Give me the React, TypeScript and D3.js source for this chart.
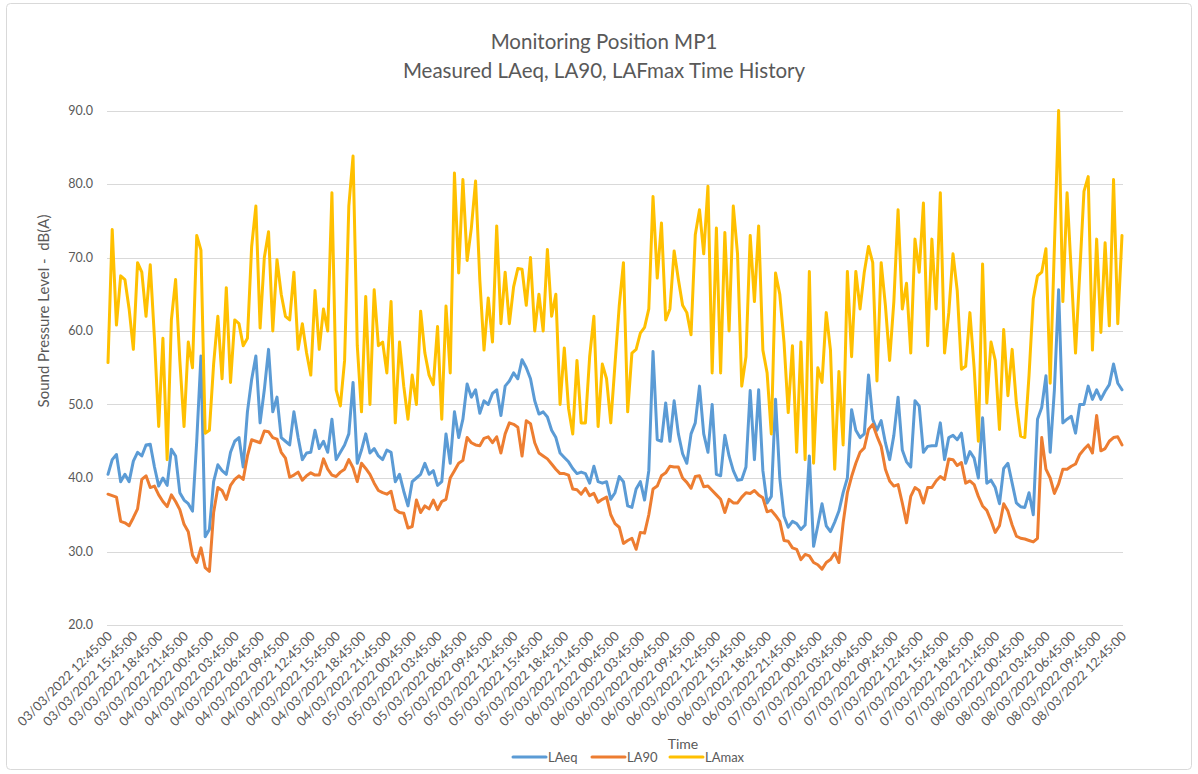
import { useEffect, useRef } from "react";
import * as d3 from "d3";

const width = 1198;
const height = 774;

// 30 minute samples from 03/03/2022 12:45 to 08/03/2022 12:45
const startTime = new Date(2022, 2, 3, 12, 45);
const stepMinutes = 30;

const laeq = [
  40.5, 42.5, 43.2, 39.5, 40.5, 39.5, 42.3, 43.5, 43, 44.5, 44.6, 41.5, 38.9, 40, 39, 43.9, 43, 38, 37, 36.5,
  35.5, 45, 56.6, 32, 33, 39.5, 41.8, 41, 40.5, 43.5, 45, 45.5, 41.5, 49, 53.4, 56.6, 47.5, 52, 57.5, 49,
  51, 45.5, 45, 44.5, 49, 45.5, 42.5, 43.4, 43.5, 46.5, 44, 45, 43.5, 48, 42.5, 43.5, 44.5, 46, 53, 42,
  43.8, 46, 43.4, 44, 43, 42.5, 43.8, 43.5, 39.5, 40.5, 38.2, 36.2, 39.5, 40, 40.5, 42, 40.5, 41, 39, 39.5,
  46, 42, 49, 45.5, 48, 52.8, 51, 52, 48.8, 50.5, 50, 51.5, 52, 48.5, 52.5, 53.2, 54.3, 53.5, 56.1, 55,
  53.5, 50.5, 48.7, 49, 48.3, 46.5, 45.5, 43.4, 42.8, 42.2, 41.3, 40.6, 40.8, 40.6, 39.3, 41.6, 39.5, 39.3, 39.5, 37.1,
  38, 40.2, 39.5, 36.2, 36, 38.5, 39.5, 37, 41, 57.2, 45.2, 45, 50.2, 45, 50.5, 46, 43.3, 42, 46, 47.5,
  52.5, 46, 43.5, 50, 40.5, 40.3, 45.8, 43, 41, 39.7, 39.8, 41.5, 51.9, 42.5, 52, 41, 36.6, 37.5, 50.7, 40,
  34.8, 33.3, 34.1, 33.8, 33, 33.6, 43, 30.7, 33.5, 36.5, 33.5, 32.7, 34, 35.5, 38, 40, 49.3, 46.5, 45.5, 46,
  54, 48, 46.5, 47.8, 44.8, 42.5, 45.8, 51, 43.8, 42.2, 41.5, 50.5, 49.8, 43.5, 44.3, 44.4, 44.4, 47.5, 42.5, 45.5,
  45.8, 45.2, 46.1, 42, 43.6, 42.7, 40, 48.2, 39.3, 39.7, 38.7, 36.5, 41.3, 42, 39.3, 36.6, 36.1, 36, 38, 35,
  48, 49.6, 53.9, 43.5, 52, 65.6, 47.5, 48, 48.4, 46.1, 50, 50, 52.5, 50.7, 52, 50.7, 51.8, 52.7, 55.5, 52.9,
  52,
];

const la90 = [
  37.8, 37.6, 37.4, 34.1, 33.9, 33.5, 34.6, 35.8, 39.8, 40.3, 38.7, 38.9, 37.7, 36.8, 36.1, 37.7, 36.8, 35.7, 33.7, 32.7,
  29.5, 28.5, 30.5, 27.8, 27.3, 35.3, 38.7, 38.3, 37.1, 39, 39.8, 40.3, 39.8, 43, 45.2, 45, 44.8, 46.4, 46.3, 45.5,
  45.3, 43.5, 42.7, 40.1, 40.4, 40.8, 39.7, 40.3, 40.7, 40.4, 40.4, 42.6, 41.2, 40.4, 40.2, 40.8, 41.2, 42.5, 41.4, 39.5,
  42, 41.3, 40.5, 39.3, 38.3, 38, 37.8, 38.2, 35.7, 35.3, 35.2, 33.2, 33.4, 37, 35.3, 36.2, 35.8, 37, 35.7, 36.8,
  37.1, 40, 41, 42, 42.4, 45.5, 44.8, 44.5, 44.4, 45.4, 45.6, 44.8, 45.6, 43.4, 46, 47.5, 47.3, 46.9, 43, 47.8,
  47.4, 44.8, 43.4, 43, 42.6, 41.9, 41.2, 40.6, 40.6, 40.4, 38.5, 38.4, 37.8, 38.6, 37.6, 37.9, 36.7, 37.1, 37.4, 35,
  33.8, 33.3, 31.1, 31.5, 31.8, 30.3, 32.6, 32.5, 35, 38.5, 38.9, 40.3, 40.7, 41.6, 41.5, 41.5, 40, 39.4, 38.6, 40.2,
  40.3, 38.8, 38.9, 38.3, 37.7, 37.1, 35.3, 37.1, 36.6, 36.6, 37.4, 38, 37.9, 38.3, 37.7, 37.3, 35.4, 35.6, 34.9, 34.1,
  31.5, 31.4, 30.5, 30.3, 28.9, 29.6, 29.4, 28.5, 28.2, 27.6, 28.5, 28.9, 29.8, 28.5, 33.9, 38, 40.2, 42, 43.5, 44.1,
  46.6, 47.3, 45.7, 44.3, 41.2, 39.6, 38.9, 39.1, 36.6, 33.9, 37.5, 38.7, 38.3, 36.6, 38.7, 38.7, 39.6, 40.2, 39.8, 42.6,
  42.5, 41.7, 42.1, 39.3, 39.6, 39.1, 37.5, 36.2, 35.6, 34.2, 32.6, 33.5, 36.5, 35.5, 33.6, 32.1, 31.8, 31.7, 31.5, 31.3,
  31.8, 45.5, 41.2, 40, 37.9, 39.2, 41.2, 41.2, 41.6, 41.9, 43.2, 43.9, 44.5, 43.4, 48.5, 43.7, 44, 45, 45.5, 45.6,
  44.5,
];

const lamax = [
  55.7, 73.8, 60.8, 67.5, 67, 63, 57.5, 69.3, 68, 62, 69, 59, 47, 59, 42.5, 61.5, 67, 56, 47, 58.5,
  55, 73, 71, 46.1, 46.5, 55.5, 62, 53.5, 65.9, 53, 61.5, 61, 58, 59, 71.5, 77, 60.4, 70, 73.5, 60,
  69.7, 65, 62, 61.5, 68, 57.5, 61, 57, 54, 65.5, 57.5, 63, 60, 78.8, 52, 49.8, 56, 77, 83.8, 58,
  49, 64.7, 50, 65.6, 58, 58.5, 54.3, 64, 47.5, 58.5, 52.5, 48, 54, 50, 62.7, 57, 54, 52.7, 60.6, 48,
  63.4, 54.3, 81.5, 67.9, 80.6, 69.6, 74, 80.4, 67, 57.4, 64.5, 58.5, 74.3, 61, 68, 61, 66, 68.5, 68.4, 63.5,
  70, 60, 65, 60, 71.1, 62, 65, 50, 57.7, 49.5, 46, 56, 47.5, 47.5, 56.5, 62, 47, 55.5, 53.5, 47.5,
  55.5, 63.4, 69.3, 49, 57, 57.5, 59.7, 60.5, 63, 78.3, 67.2, 74.7, 61.5, 63, 70.9, 67, 63.5, 62.5, 59.5, 73.1,
  76.5, 70.5, 79.7, 54.3, 74, 54.3, 73.4, 60, 77, 70.5, 52.5, 56.5, 73, 64, 74.3, 57.4, 54.3, 46, 67.9, 65,
  58.5, 48.9, 58, 43.5, 58.5, 42.5, 68.1, 42, 55, 53, 62.5, 57.4, 41.2, 54.5, 44.5, 68.1, 56.5, 68.1, 63, 68,
  71.5, 69.3, 53.2, 69.3, 63.5, 56, 64, 76.5, 63, 66.5, 57, 72.5, 68, 77.4, 58, 72.5, 63, 78.8, 57, 62.5,
  70.5, 65.5, 54.8, 55.2, 62.5, 55, 45, 69.1, 50.2, 58.5, 56, 46.6, 60.2, 51.2, 57.5, 50.2, 45.7, 45.5, 54, 64.4,
  67.5, 68, 71.2, 52.9, 71.5, 90, 64, 78.8, 67.9, 57, 67.9, 79, 81, 57.4, 72.5, 59.8, 72, 60.7, 80.6, 61,
  73,
];

const seriesNames = ["LAeq", "LA90", "LAmax"];
const seriesColors = ["#5B9BD5", "#ED7D31", "#FFC000"];
const yTicks = [20, 30, 40, 50, 60, 70, 80, 90];
const titleLines = ["Monitoring Position MP1", "Measured LAeq, LA90, LAFmax Time History"];

const font = "Lato, 'Open Sans', sans-serif";
const textColor = "#595959";

const App = () => {
  const ref = useRef<SVGSVGElement>(null);

  useEffect(() => {
    const svg = d3.select(ref.current);
    svg.selectAll("*").remove();

    const times = laeq.map((_, i) => new Date(startTime.getTime() + i * stepMinutes * 60000));
    const x = d3.scaleTime().domain([times[0], times[times.length - 1]]).range([108, 1122]);
    const y = d3.scaleLinear().domain([20, 90]).range([625, 110.5]);

    // chart area border
    svg.append("rect")
      .attr("x", 6.5).attr("y", 3.5)
      .attr("width", 1185).attr("height", 766)
      .attr("rx", 4)
      .attr("fill", "#fff")
      .attr("stroke", "#d9d9d9");

    // title
    svg.append("g")
      .selectAll("text")
      .data(titleLines)
      .enter().append("text")
      .attr("x", 604)
      .attr("y", (d, i) => 49 + i * 29)
      .attr("text-anchor", "middle")
      .attr("font-family", font)
      .attr("font-size", 20.5)
      .attr("fill", textColor)
      .text(d => d);

    // gridlines + y labels
    const grid = svg.append("g");
    grid.selectAll("line")
      .data(yTicks)
      .enter().append("line")
      .attr("x1", 107).attr("x2", 1123)
      .attr("y1", d => Math.round(y(d)) + 0.5)
      .attr("y2", d => Math.round(y(d)) + 0.5)
      .attr("stroke", "#d9d9d9")
      .attr("stroke-width", 1);
    grid.selectAll("text")
      .data(yTicks)
      .enter().append("text")
      .attr("x", 93)
      .attr("y", d => y(d))
      .attr("dy", "0.35em")
      .attr("text-anchor", "end")
      .attr("font-family", font)
      .attr("font-size", 12.5)
      .attr("fill", textColor)
      .text(d => d.toFixed(1));

    // y axis title
    svg.append("text")
      .attr("transform", "translate(49,311) rotate(-90)")
      .attr("text-anchor", "middle")
      .attr("font-family", font)
      .attr("font-size", 15)
      .attr("fill", textColor)
      .attr("xml:space", "preserve")
      .text("Sound Pressure Level -  dB(A)");

    // x tick labels every 3 hours
    const tickTimes = times.filter((_, i) => i % 6 === 0);
    const fmt = d3.timeFormat("%d/%m/%Y %H:%M:%S");
    svg.append("g")
      .selectAll("text")
      .data(tickTimes)
      .enter().append("text")
      .attr("transform", d => `translate(${x(d) + 5},637) rotate(-45)`)
      .attr("text-anchor", "end")
      .attr("font-family", font)
      .attr("font-size", 13)
      .attr("fill", textColor)
      .text(d => fmt(d));

    svg.append("text")
      .attr("x", 683).attr("y", 749)
      .attr("text-anchor", "middle")
      .attr("font-family", font)
      .attr("font-size", 14)
      .attr("fill", textColor)
      .text("Time");

    // lines
    const allSeries = [laeq, la90, lamax];
    const line = d3.line<number>()
      .x((_, i) => x(times[i]))
      .y(d => y(d));
    svg.append("g")
      .selectAll("path")
      .data(allSeries)
      .enter().append("path")
      .attr("d", d => line(d))
      .attr("fill", "none")
      .attr("stroke", (_, i) => seriesColors[i])
      .attr("stroke-width", 3)
      .attr("stroke-linejoin", "round")
      .attr("stroke-linecap", "round");

    // legend
    const legendX = [513, 592, 670];
    const legend = svg.append("g")
      .selectAll("g")
      .data(seriesNames)
      .enter().append("g")
      .attr("transform", (_, i) => `translate(${legendX[i]},757)`);
    legend.append("line")
      .attr("x1", 0).attr("x2", 33)
      .attr("stroke", (_, i) => seriesColors[i])
      .attr("stroke-width", 3)
      .attr("stroke-linecap", "round");
    legend.append("text")
      .attr("x", 35)
      .attr("dy", "0.35em")
      .attr("font-family", font)
      .attr("font-size", 13)
      .attr("fill", textColor)
      .text(d => d);
  }, []);

  return (
    <svg
      ref={ref}
      width={width}
      height={height}
      style={{ position: "absolute", left: 0, top: 0 }}
    />
  );
};

export default App;
